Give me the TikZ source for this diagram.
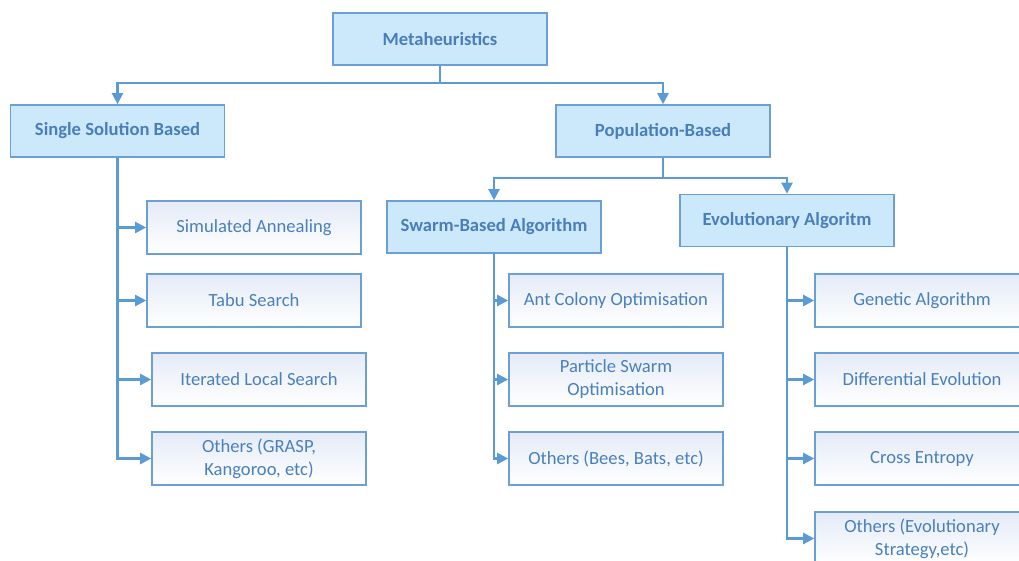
\documentclass[tikz,border=0pt]{standalone}
\usepackage{fontspec}
\setmainfont{Carlito}
\usetikzlibrary{arrows.meta}
\definecolor{lineblue}{HTML}{5B9BD5}
\definecolor{boxline}{HTML}{6C9FD4}
\definecolor{hdrfill}{HTML}{CCE9FB}
\definecolor{hdrtext}{HTML}{4A7EBB}
\definecolor{leaftext}{HTML}{4A80BE}
\definecolor{leafshade}{HTML}{E4EBF7}
\tikzset{
  hdr/.style={draw=boxline, line width=1.6pt, fill=hdrfill, text=hdrtext,
    font=\fontsize{18.6}{22}\selectfont\bfseries, minimum width=214pt, minimum height=52pt,
    inner sep=0pt, align=center},
  leaf/.style={draw=boxline, line width=1.6pt, left color=leafshade, right color=white,
    shading angle=0, text=leaftext,
    font=\fontsize{18.6}{23}\selectfont, minimum width=214pt, minimum height=53pt,
    inner sep=0pt, align=center},
  conn/.style={draw=lineblue, line width=2.2pt},
  arr/.style={conn, -{Triangle[length=11pt,width=11pt]}}
}
\begin{document}
\begin{tikzpicture}[x=1pt,y=-1pt]
\useasboundingbox (0,0) rectangle (1019,560);
\clip (0,0) rectangle (1019,560);

\node[hdr] (meta) at (440,39) {Metaheuristics};
\node[hdr] (single) at (117.5,131) {Single Solution Based};
\node[hdr] (pop) at (663,131) {Population-Based};
\node[hdr] (swarm) at (494,227) {Swarm-Based Algorithm};
\node[hdr] (evo) at (787,220.5) {Evolutionary Algoritm};

\node[leaf] (sa) at (254,227.5) {Simulated Annealing};
\node[leaf] (tabu) at (254,300.5) {Tabu Search};
\node[leaf] (ils) at (259,379.5) {Iterated Local Search};
\node[leaf] (oth1) at (259,458.5) {Others (GRASP,\\Kangoroo, etc)};

\node[leaf] (aco) at (616,300.5) {Ant Colony Optimisation};
\node[leaf] (pso) at (616,379.5) {Particle Swarm\\Optimisation};
\node[leaf] (oth2) at (616,458.5) {Others (Bees, Bats, etc)};

\node[leaf] (ga) at (922,300.5) {Genetic Algorithm};
\node[leaf] (de) at (922,379.5) {Differential Evolution};
\node[leaf] (ce) at (922,458.5) {Cross Entropy};
\node[leaf] (oth3) at (922,538.5) {Others (Evolutionary\\Strategy,etc)};

\coordinate (j1) at (440,83);
\draw[conn] (meta.south) -- (j1);
\draw[arr] (j1) -| (single.north);
\draw[arr] (j1) -| (pop.north);

\coordinate (j2) at (663,178);
\draw[conn] (pop.south) -- (j2);
\draw[arr] (j2) -| (swarm.north);
\draw[arr] (j2) -| (evo.north);

\draw[arr] (single.south) |- (sa.west);
\draw[arr] (single.south) |- (tabu.west);
\draw[arr] (single.south) |- (ils.west);
\draw[arr] (single.south) |- (oth1.west);

\draw[arr] (swarm.south) |- (aco.west);
\draw[arr] (swarm.south) |- (pso.west);
\draw[arr] (swarm.south) |- (oth2.west);

\draw[arr] (evo.south) |- (ga.west);
\draw[arr] (evo.south) |- (de.west);
\draw[arr] (evo.south) |- (ce.west);
\draw[arr] (evo.south) |- (oth3.west);
\end{tikzpicture}
\end{document}
